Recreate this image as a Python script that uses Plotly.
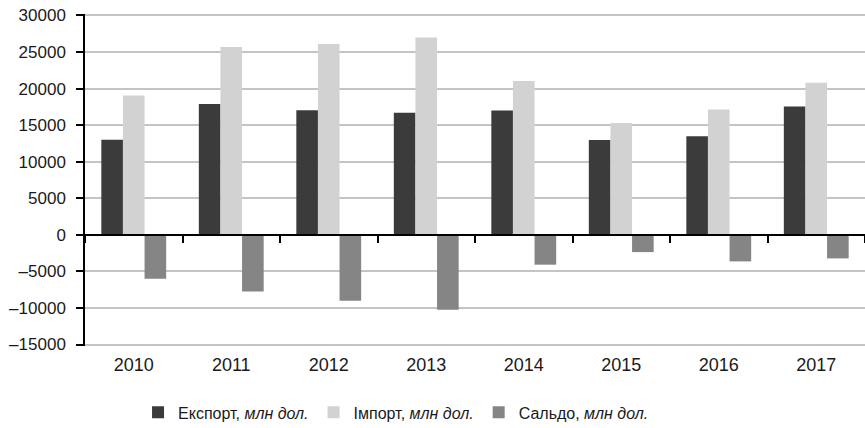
import plotly.graph_objects as go

years = ["2010", "2011", "2012", "2013", "2014", "2015", "2016", "2017"]
export_vals = [13000, 17900, 17050, 16700, 17000, 12970, 13470, 17550]
import_vals = [19050, 25700, 26100, 27000, 21040, 15280, 17140, 20800]
saldo_vals = [-5990, -7760, -9020, -10250, -4080, -2360, -3630, -3220]

series_names = [
    "Експорт, <i>млн дол.</i>",
    "Імпорт, <i>млн дол.</i>",
    "Сальдо, <i>млн дол.</i>",
]
colors = ["#3b3b3b", "#d2d2d2", "#858585"]

y_tickvals = [30000, 25000, 20000, 15000, 10000, 5000, 0, -5000, -10000, -15000]
y_ticktext = ["30000", "25000", "20000", "15000", "10000", "5000", "0",
              "–5000", "–10000", "–15000"]

FONT = "Liberation Sans, Arial, sans-serif"

# small padding so the end gridlines (30000 / -15000) are not clipped away
Y_MIN, Y_MAX = -15200, 30200

fig = go.Figure()
for name, vals, col in zip(series_names, [export_vals, import_vals, saldo_vals], colors):
    fig.add_trace(go.Bar(x=years, y=vals, name=name, marker=dict(color=col, line=dict(width=0))))

# dummy trace on label axis
fig.add_trace(go.Bar(x=years, y=[None] * len(years), xaxis="x2", showlegend=False,
                     hoverinfo="skip"))

fig.update_layout(
    width=865, height=428,
    margin=dict(l=85, r=0, t=13.5, b=81.5, autoexpand=False),
    paper_bgcolor="white", plot_bgcolor="white",
    barmode="group", bargap=0.335, bargroupgap=0,
    font=dict(family=FONT, size=18, color="#1a1a1a"),
    xaxis=dict(
        type="category", anchor="free", position=(0 - Y_MIN) / (Y_MAX - Y_MIN),
        showline=True, linecolor="black", linewidth=1.5,
        ticks="outside", ticklen=7, tickcolor="black", tickwidth=1.5,
        tickson="boundaries", showticklabels=False, showgrid=False,
        range=[-0.5, 7.5], automargin=False,
    ),
    xaxis2=dict(
        type="category", overlaying="x", anchor="y", side="bottom",
        matches="x", showline=False, showgrid=False,
        ticks="outside", ticklen=2, tickcolor="rgba(0,0,0,0)",
        tickfont=dict(family=FONT, size=18, color="#1a1a1a"),
        automargin=False,
    ),
    yaxis=dict(
        range=[Y_MIN, Y_MAX], tickvals=y_tickvals, ticktext=y_ticktext,
        showline=True, linecolor="black", linewidth=1.5,
        ticks="outside", ticklen=7, tickcolor="black", tickwidth=1.5,
        showgrid=True, gridcolor="#c4c4c4", gridwidth=1.5,
        zeroline=True, zerolinecolor="black", zerolinewidth=1.5,
        ticklabelstandoff=7, automargin=False, ticklabeloverflow="allow",
        tickfont=dict(family=FONT, size=17, color="#1a1a1a"),
    ),
    legend=dict(
        orientation="h", x=0.068, xanchor="left", y=-0.2, yanchor="middle",
        font=dict(family=FONT, size=16, color="#1a1a1a"),
        itemwidth=30, traceorder="normal",
    ),
    showlegend=True,
)

fig.write_html("out.html", config={"displayModeBar": False},
               post_script="document.body.style.margin='0';")
